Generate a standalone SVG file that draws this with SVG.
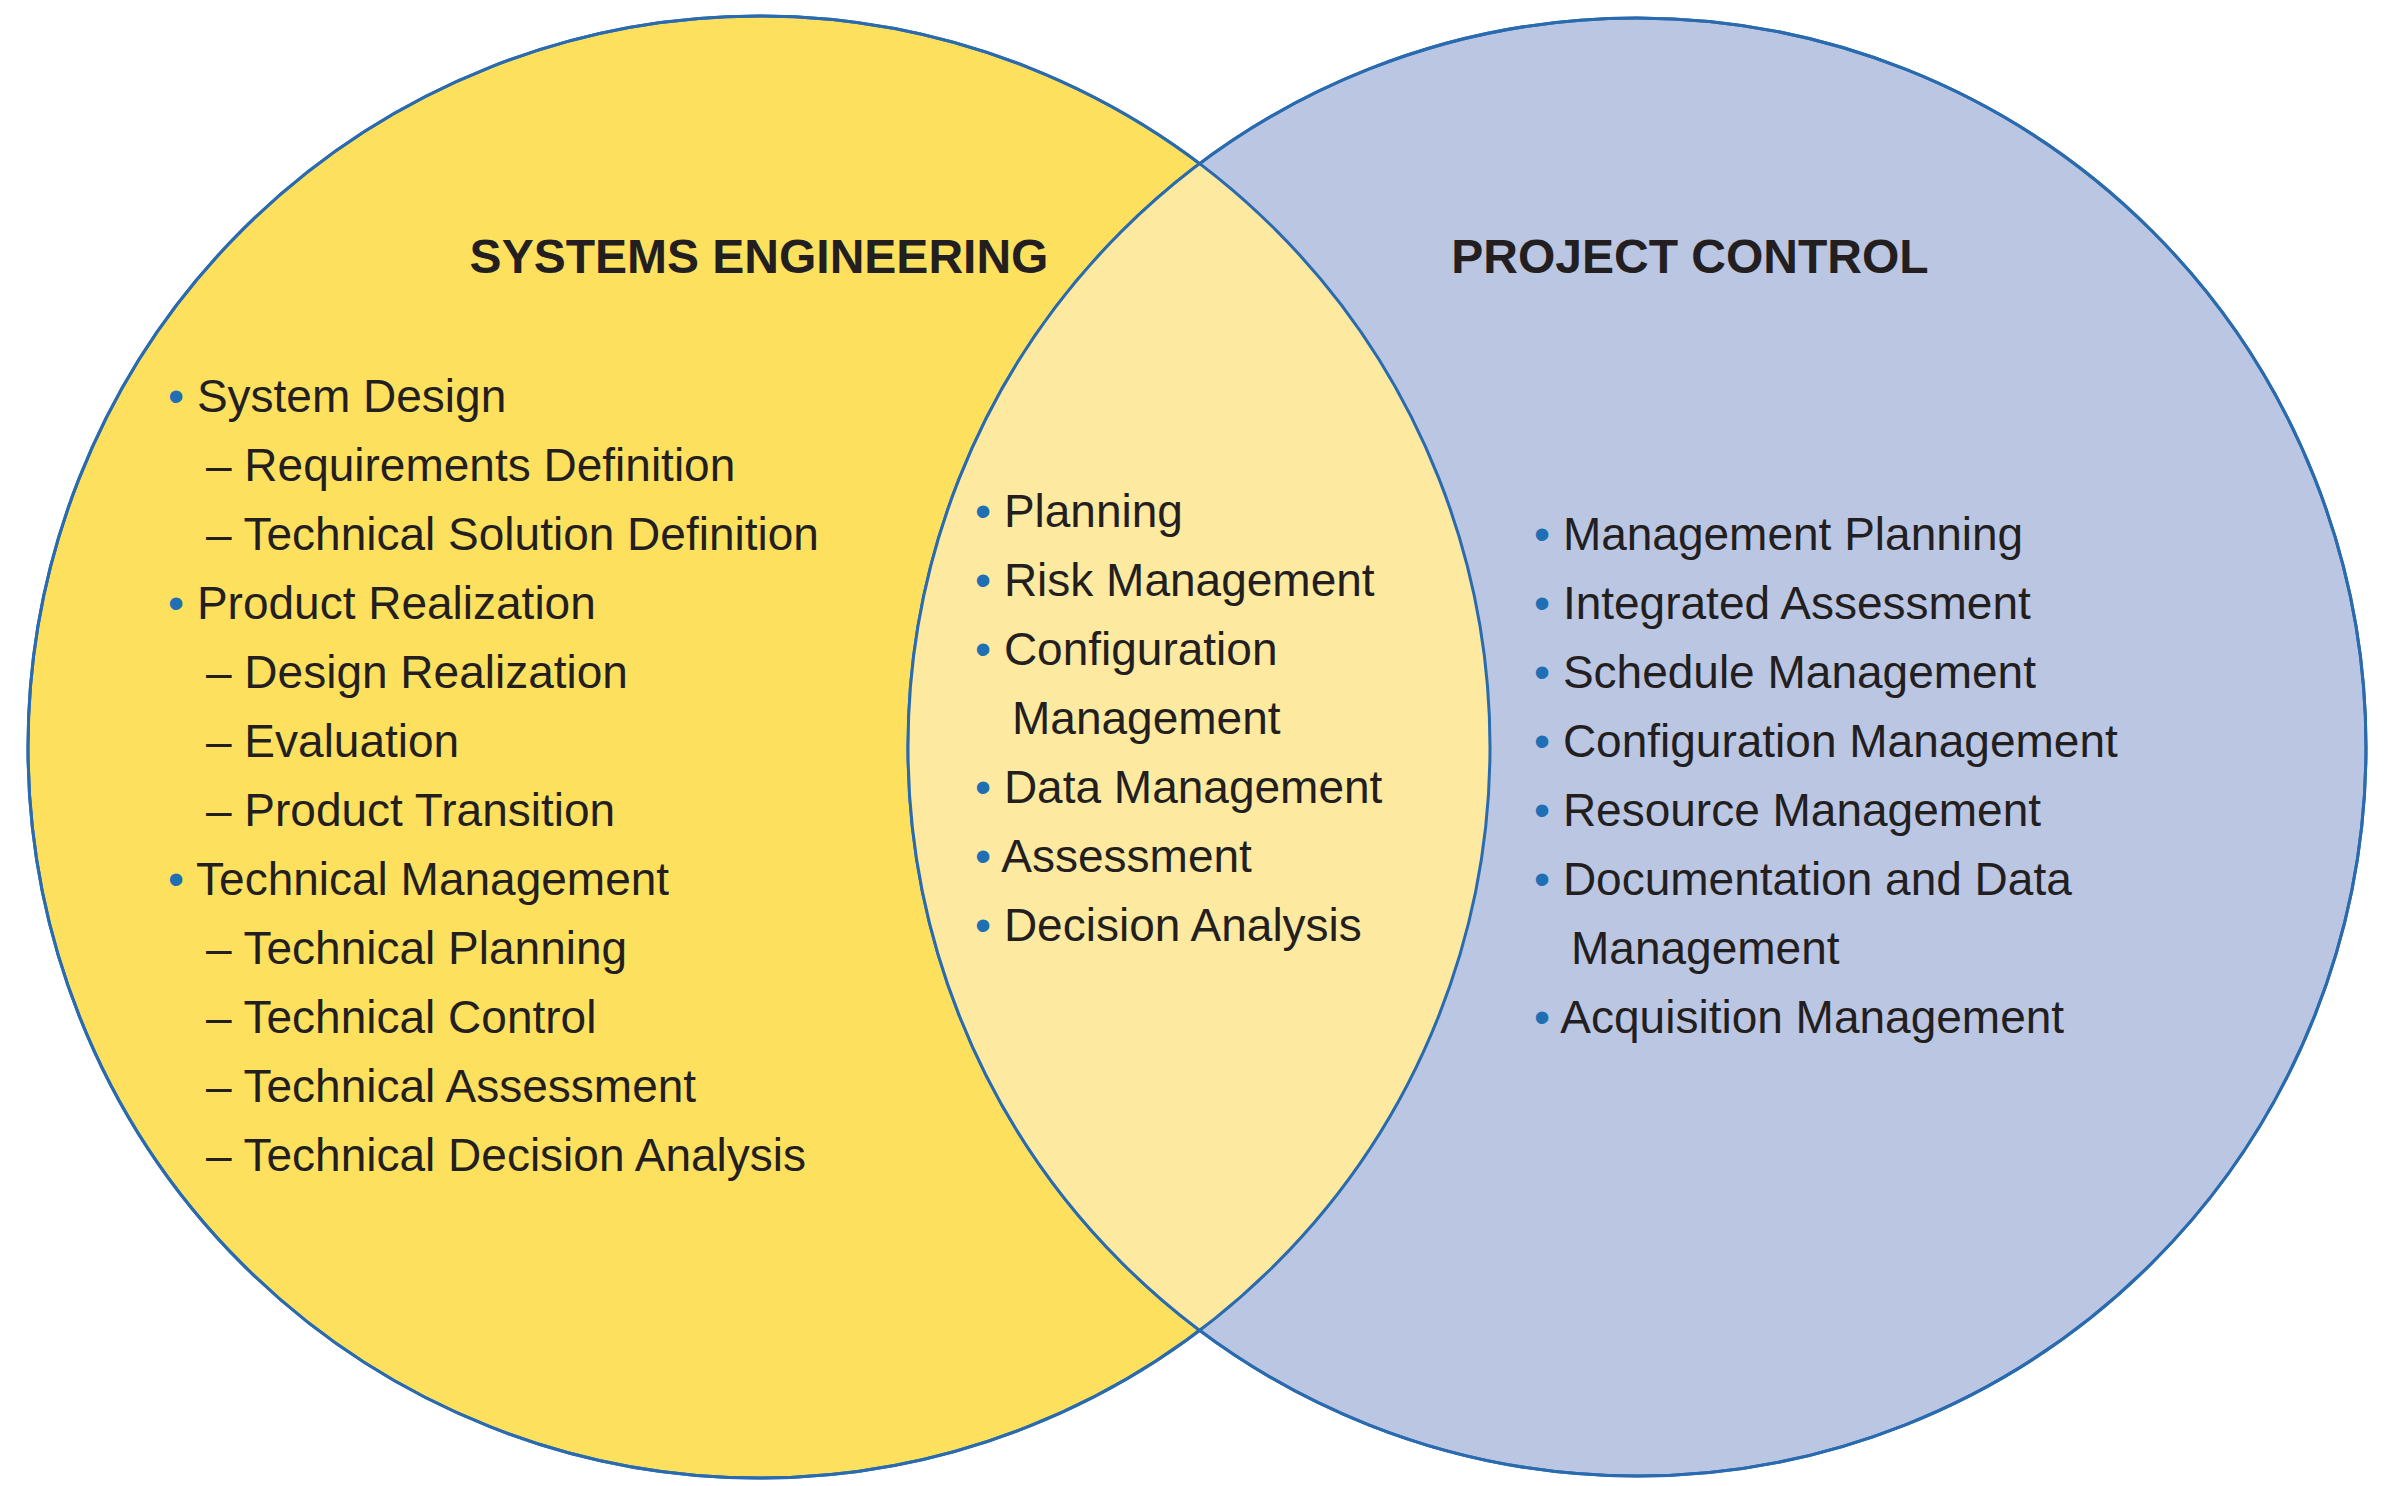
<svg xmlns="http://www.w3.org/2000/svg" width="2384" height="1486" viewBox="0 0 2384 1486">
<style>
.t{font-family:"Liberation Sans",Arial,sans-serif;font-size:46px;fill:#231f20}
.h{font-family:"Liberation Sans",Arial,sans-serif;font-size:48px;font-weight:bold;fill:#231f20;text-anchor:middle}
.b{fill:#1f6fb5}
</style>
<defs>
<clipPath id="cl"><circle cx="759" cy="747" r="731"/></clipPath>
</defs>
<rect width="2384" height="1486" fill="#fff"/>
<g id="se"><circle cx="759" cy="747" r="731" fill="#fde05e" stroke="#2a6bb0" stroke-width="3"/></g>
<g id="pc"><circle cx="1637" cy="747" r="729" fill="#bac6e2" stroke="#2a6bb0" stroke-width="3"/></g>
<g id="overlap"><circle cx="1637" cy="747" r="729" fill="#fde99f" clip-path="url(#cl)"/>
<circle cx="759" cy="747" r="731" fill="none" stroke="#2a6bb0" stroke-width="3"/>
<circle cx="1637" cy="747" r="729" fill="none" stroke="#2a6bb0" stroke-width="3"/></g>
<g id="connectors"/>
<g id="labels">
<text class="h" x="759" y="273">SYSTEMS ENGINEERING</text>
<text class="h" x="1690" y="273">PROJECT CONTROL</text>
<g class="t">
<text x="168" y="412"><tspan class="b">•</tspan> System Design</text>
<text x="206" y="481">– Requirements Definition</text>
<text x="206" y="550">– Technical Solution Definition</text>
<text x="168" y="619"><tspan class="b">•</tspan> Product Realization</text>
<text x="206" y="688">– Design Realization</text>
<text x="206" y="757">– Evaluation</text>
<text x="206" y="826">– Product Transition</text>
<text x="168" y="895"><tspan class="b">•</tspan> Technical Management</text>
<text x="206" y="964">– Technical Planning</text>
<text x="206" y="1033">– Technical Control</text>
<text x="206" y="1102">– Technical Assessment</text>
<text x="206" y="1171">– Technical Decision Analysis</text>

<text x="975" y="527"><tspan class="b">•</tspan> Planning</text>
<text x="975" y="596"><tspan class="b">•</tspan> Risk Management</text>
<text x="975" y="665"><tspan class="b">•</tspan> Configuration</text>
<text x="1012" y="734">Management</text>
<text x="975" y="803"><tspan class="b">•</tspan> Data Management</text>
<text x="975" y="872"><tspan class="b">•</tspan> Assessment</text>
<text x="975" y="941"><tspan class="b">•</tspan> Decision Analysis</text>

<text x="1534" y="550"><tspan class="b">•</tspan> Management Planning</text>
<text x="1534" y="619"><tspan class="b">•</tspan> Integrated Assessment</text>
<text x="1534" y="688"><tspan class="b">•</tspan> Schedule Management</text>
<text x="1534" y="757"><tspan class="b">•</tspan> Configuration Management</text>
<text x="1534" y="826"><tspan class="b">•</tspan> Resource Management</text>
<text x="1534" y="895"><tspan class="b">•</tspan> Documentation and Data</text>
<text x="1571" y="964">Management</text>
<text x="1534" y="1033"><tspan class="b">•</tspan> Acquisition Management</text>
</g>
</g>
</svg>
